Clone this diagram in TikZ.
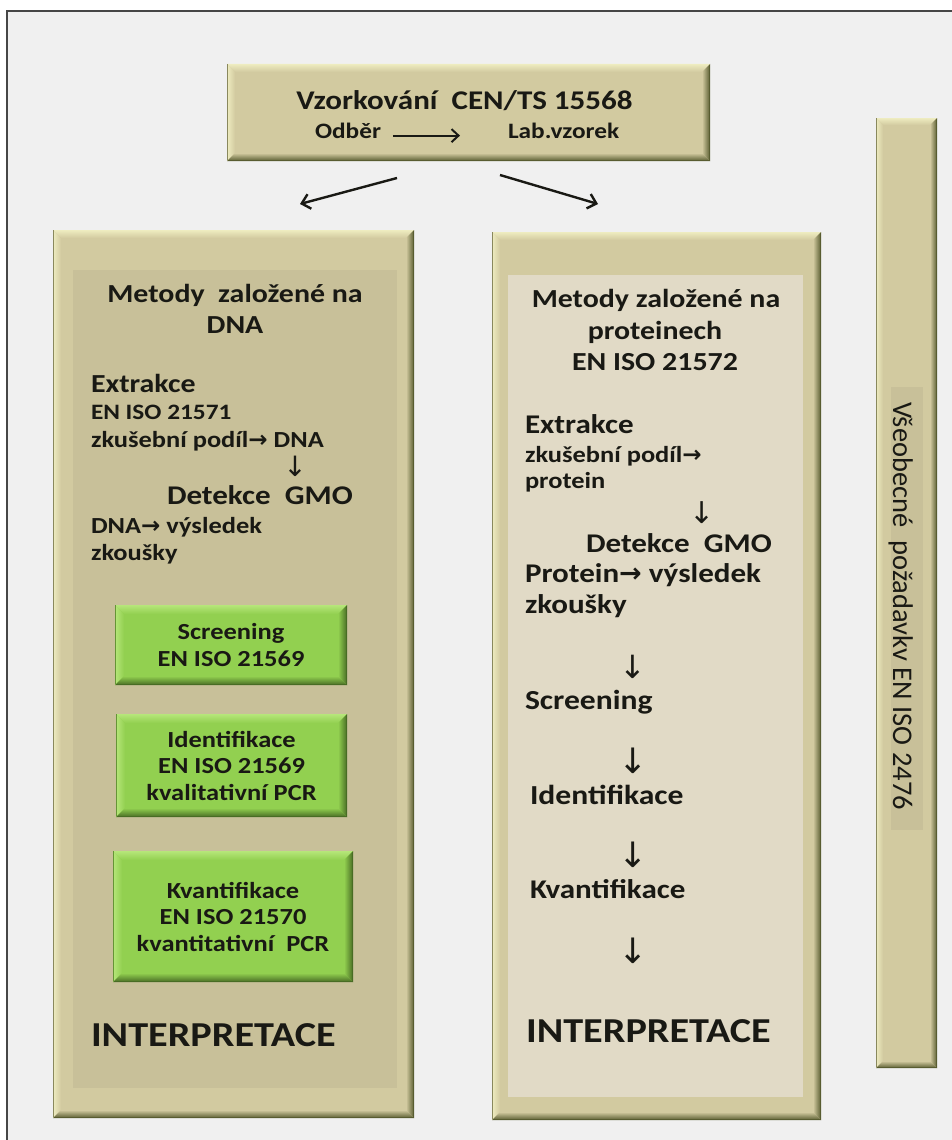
\documentclass[tikz,border=0pt]{standalone}
\usepackage{fontspec}
\setmainfont{Carlito}[FakeStretch=1.15]
\newfontfamily\arrfont{DejaVu Sans}
\newfontfamily\plainfont{Carlito}
\usetikzlibrary{arrows.meta}

\newcommand{\fsz}[1]{\fontsize{#1}{#1}\selectfont}
% bevel: node, fill, light, dark, width
\newcommand{\bevel}[5]{%
  \path[top color=#3,bottom color=#2] (#1.north west) -- (#1.north east) -- ([xshift=-#5,yshift=-#5]#1.north east) -- ([xshift=#5,yshift=-#5]#1.north west) -- cycle;
  \path[left color=#3,right color=#2] (#1.north west) -- ([xshift=#5,yshift=-#5]#1.north west) -- ([xshift=#5,yshift=#5]#1.south west) -- (#1.south west) -- cycle;
  \path[left color=#2,right color=#4] (#1.north east) -- (#1.south east) -- ([xshift=-#5,yshift=#5]#1.south east) -- ([xshift=-#5,yshift=-#5]#1.north east) -- cycle;
  \path[top color=#2,bottom color=#4] (#1.south west) -- (#1.south east) -- ([xshift=-#5,yshift=#5]#1.south east) -- ([xshift=#5,yshift=#5]#1.south west) -- cycle;
  \draw[#4,line width=1.2pt] ([xshift=.6pt,yshift=.6pt]#1.south west) -- ([xshift=-.6pt,yshift=.6pt]#1.south east) -- ([xshift=-.6pt,yshift=-.6pt]#1.north east);
  \draw[#4!60!#2,line width=0.8pt] ([xshift=.4pt,yshift=.6pt]#1.south west) -- ([xshift=.4pt,yshift=-.4pt]#1.north west);
}

\tikzset{
  box/.style={rectangle,inner sep=0pt,outer sep=0pt},
  tanbox/.style={box,fill=tanFill},
  greenbox/.style={box,fill=greenFill,text=textColor,align=center,
    font=\bfseries\fontsize{23}{26.5}\selectfont},
  txt/.style={inner sep=0pt,outer sep=0pt,text=textColor},
  down/.style={txt,anchor=center,font=\arrfont\fsz{#1}},
  ptr/.style={draw=textColor,line width=2.4pt,-{Straight Barb[length=8pt,width=15pt,line width=2.4pt]}},
}

\begin{document}
\begin{tikzpicture}[x=1pt,y=-1pt]
\definecolor{bgColor}{RGB}{240,240,240}
\definecolor{frameColor}{RGB}{70,70,70}
\definecolor{textColor}{RGB}{25,25,20}
\definecolor{tanFill}{RGB}{210,202,160}
\definecolor{tanLight}{RGB}{238,236,192}
\definecolor{tanDark}{RGB}{88,92,48}
\definecolor{dnaPanel}{RGB}{200,192,153}
\definecolor{protPanel}{RGB}{225,218,198}
\definecolor{greenFill}{RGB}{146,208,80}
\definecolor{greenLight}{RGB}{182,230,122}
\definecolor{greenDark}{RGB}{72,108,36}

\path[use as bounding box,fill=white] (0,0) rectangle (952,1140);
\path[fill=bgColor] (7,11) rectangle (952,1140);
\path[draw=frameColor,line width=1.5pt] (7,1140) -- (7,11) -- (952,11);

% sampling box
\node[tanbox,minimum width=483pt,minimum height=97pt] (samp) at (468.5,112.5) {};
\bevel{samp}{tanFill}{tanLight}{tanDark}{8pt}
\node[txt,anchor=base,font=\bfseries\fsz{27}] (sampT) at (464.5,109) {Vzorkování\ \ CEN/TS 15568};
\node[txt,anchor=base west,font=\bfseries\fsz{22}] (odber) at (315,138) {Odběr};
\node[txt,anchor=base west,font=\bfseries\fsz{22}] (labvz) at (508,138) {Lab.vzorek};
\draw[draw=textColor,line width=2pt,-{Straight Barb[length=7pt,width=13pt,line width=2pt]}] ([xshift=12pt]odber.mid east) -- ([xshift=-48pt]labvz.mid west);

% columns
\node[tanbox,minimum width=361pt,minimum height=888pt] (dna) at (233.5,674) {};
\bevel{dna}{tanFill}{tanLight}{tanDark}{8pt}
\node[box,fill=dnaPanel,minimum width=324pt,minimum height=818pt] (dnaIn) at (235,679) {};

\node[tanbox,minimum width=329pt,minimum height=888pt] (prot) at (656.5,676) {};
\bevel{prot}{tanFill}{tanLight}{tanDark}{8pt}
\node[box,fill=protPanel,minimum width=295pt,minimum height=822pt] (protIn) at (655.5,686) {};

\node[tanbox,minimum width=61pt,minimum height=950pt] (gen) at (906.5,593) {};
\bevel{gen}{tanFill}{tanLight}{tanDark}{7pt}
\node[box,fill=dnaPanel,minimum width=32pt,minimum height=443pt] (genIn) at (907,608.5) {};
\node[txt,rotate=-90,anchor=base,font=\plainfont\fsz{28.5}] (genT) at (893,606) {Všeobecné\ \ požadavkv EN ISO 2476};

% arrows to columns
\coordinate (toDnaA) at (397,178);
\coordinate (toDnaB) at (300,204);
\coordinate (toProtA) at (500,175);
\coordinate (toProtB) at (598,204);
\draw[ptr] (toDnaA) -- (toDnaB);
\draw[ptr] (toProtA) -- (toProtB);

% DNA column
\node[txt,anchor=base,font=\bfseries\fsz{26}] (dnaT1) at (235,302) {Metody\ \ založené na};
\node[txt,anchor=base,font=\bfseries\fsz{26}] (dnaT2) at (235,333) {DNA};
\node[txt,anchor=base west,font=\bfseries\fsz{26}] (dnaExtr) at (91,392) {Extrakce};
\node[txt,anchor=base west,font=\bfseries\fsz{22}] (dnaIso) at (91,419) {EN ISO 21571};
\node[txt,anchor=base west,font=\bfseries\fsz{23}] (dnaPod) at (91,447) {zkušební podíl{\arrfont→} DNA};
\node[down=28] (dnaDown) at (295,466) {↓};
\node[txt,anchor=base west,font=\bfseries\fsz{27}] (dnaDet) at (167,504) {Detekce\ \ GMO};
\node[txt,anchor=base west,font=\bfseries\fsz{23}] (dnaVys) at (91,533) {DNA{\arrfont→} výsledek};
\node[txt,anchor=base west,font=\bfseries\fsz{23}] (dnaZk) at (91,560) {zkoušky};

\node[greenbox,minimum width=232pt,minimum height=80pt] (dnaScr) at (231,645) {Screening\\EN ISO 21569};
\bevel{dnaScr}{greenFill}{greenLight}{greenDark}{9pt}
\node[greenbox,minimum width=231pt,minimum height=103pt] (dnaIdent) at (231.5,765.5) {Identifikace\\EN ISO 21569\\kvalitativní PCR};
\bevel{dnaIdent}{greenFill}{greenLight}{greenDark}{9pt}
\node[greenbox,minimum width=240pt,minimum height=131pt] (dnaKvant) at (233,916.5) {Kvantifikace\\EN ISO 21570\\kvantitativní\ \ PCR};
\bevel{dnaKvant}{greenFill}{greenLight}{greenDark}{9pt}

\node[txt,anchor=base west,font=\bfseries\fsz{35}] (dnaInterp) at (91,1046) {INTERPRETACE};

% protein column
\node[txt,anchor=base,font=\bfseries\fsz{26}] (protT1) at (656,307) {Metody založené na};
\node[txt,anchor=base,font=\bfseries\fsz{26}] (protT2) at (655,339) {proteinech};
\node[txt,anchor=base,font=\bfseries\fsz{26}] (protT3) at (655,370) {EN ISO 21572};
\node[txt,anchor=base west,font=\bfseries\fsz{27}] (protExtr) at (525,433) {Extrakce};
\node[txt,anchor=base west,font=\bfseries\fsz{23}] (protPod) at (525,462) {zkušební podíl{\arrfont→}};
\node[txt,anchor=base west,font=\bfseries\fsz{23}] (protProt) at (525,488) {protein};
\node[down=30] (protDown1) at (702,513) {↓};
\node[txt,anchor=base west,font=\bfseries\fsz{27}] (protDet) at (586,552) {Detekce\ \ GMO};
\node[txt,anchor=base west,font=\bfseries\fsz{27}] (protVys) at (525,582) {Protein{\arrfont→} výsledek};
\node[txt,anchor=base west,font=\bfseries\fsz{27}] (protZk) at (525,613) {zkoušky};
\node[down=32] (protDown2) at (633,667) {↓};
\node[txt,anchor=base west,font=\bfseries\fsz{27.5}] (protScr) at (525,709) {Screening};
\node[down=35] (protDown3) at (633,761) {↓};
\node[txt,anchor=base west,font=\bfseries\fsz{27.5}] (protIdent) at (530,804) {Identifikace};
\node[down=35] (protDown4) at (633,855) {↓};
\node[txt,anchor=base west,font=\bfseries\fsz{27}] (protKvant) at (530,898) {Kvantifikace};
\node[down=35] (protDown5) at (633,951) {↓};
\node[txt,anchor=base west,font=\bfseries\fsz{35}] (protInterp) at (526,1042) {INTERPRETACE};
\end{tikzpicture}
\end{document}
